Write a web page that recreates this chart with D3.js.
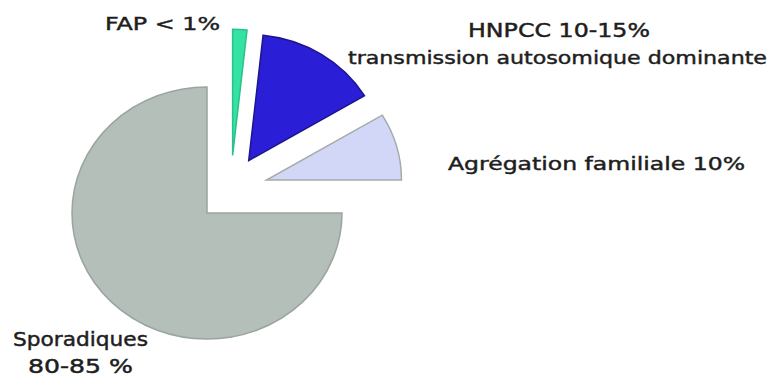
<!DOCTYPE html>
<html>
<head>
<meta charset="utf-8">
<script src="https://cdn.jsdelivr.net/npm/d3@7"></script>
<style>
  body { margin: 0; background: #fff; }
  text { font-family: "Comic Sans MS", "DejaVu Sans", sans-serif; fill: #1e1e1e; stroke: #1e1e1e; stroke-width: 0.45; }
</style>
</head>
<body>
<div id="graph"></div>
<script>
// slices in drawing order, clockwise from 12 o'clock
const categories = ["FAP", "HNPCC", "Agrégation familiale", "Sporadiques"];
const values = [1.7, 14.7, 8.6, 75];
const labels = [
  ["FAP < 1%"],
  ["HNPCC 10-15%", "transmission autosomique dominante"],
  ["Agrégation familiale 10%"],
  ["Sporadiques", "80-85 %"]
];

const fills = ["#34e3a3", "#2a1fd6", "#d3d7f7", "#b4bfba"];
const strokes = ["#2cc08a", "#1c158f", "#a4abab", "#9aa59f"];
// explode: distance in px, direction in degrees from 12 o'clock
const explode = [[63, 24], [67, 38.5], [68, 61], [0, 0]];

let svg = d3.select("#graph").append("svg")
  .attr("width", 773)
  .attr("height", 380);

let cx = 207, cy = 213, r = 135, squash = 0.934;

let pie = d3.pie().sort(null).value(d => d);
let arc = d3.arc().innerRadius(0).outerRadius(r);

svg.selectAll("g.slice")
  .data(pie(values))
  .enter()
  .append("g")
  .attr("class", "slice")
  .attr("transform", function (d, i) {
    let a = explode[i][1] * Math.PI / 180;
    let dx = explode[i][0] * Math.sin(a);
    let dy = -explode[i][0] * Math.cos(a);
    return "translate(" + (cx + dx) + "," + (cy + dy) + ") scale(1," + squash + ")";
  })
  .append("path")
  .attr("d", arc)
  .attr("fill", (d, i) => fills[i])
  .attr("stroke", (d, i) => strokes[i])
  .attr("stroke-width", 1.5)
  .attr("vector-effect", "non-scaling-stroke");

// label positions: [x, y baseline, width] per line
const labelPos = [
  [[105, 30, 115]],
  [[468, 37, 182], [348, 64, 419]],
  [[448, 170, 297]],
  [[13, 346, 135], [28, 373, 105]]
];
const labelSize = [[18], [19, 18], [18], [19, 19]];

labels.forEach(function (lines, i) {
  lines.forEach(function (t, j) {
    let p = labelPos[i][j];
    svg.append("text")
      .attr("x", p[0])
      .attr("y", p[1])
      .attr("font-size", labelSize[i][j])
      .attr("textLength", p[2])
      .attr("lengthAdjust", "spacingAndGlyphs")
      .text(t);
  });
});
</script>
</body>
</html>
